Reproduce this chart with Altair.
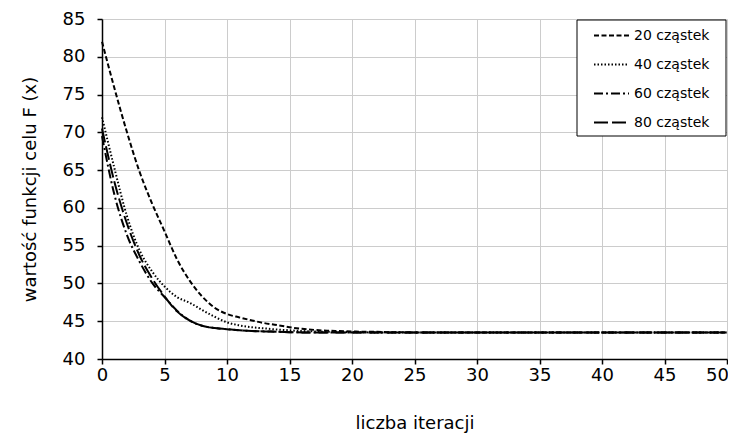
import altair as alt
import pandas as pd

iters = list(range(51))
series_names = ["20 cząstek", "40 cząstek", "60 cząstek", "80 cząstek"]

s20 = [82.0, 75.8, 70.0, 64.8, 60.6, 56.9, 53.2, 50.4, 48.3, 46.8,
       45.95, 45.5, 45.1, 44.75, 44.5, 44.2, 44.0, 43.85, 43.75, 43.7,
       43.65, 43.6, 43.6, 43.55, 43.55, 43.5, 43.5, 43.5, 43.5, 43.5,
       43.5, 43.5, 43.5, 43.5, 43.5, 43.5, 43.5, 43.5, 43.5, 43.5,
       43.5, 43.5, 43.5, 43.5, 43.5, 43.5, 43.5, 43.5, 43.5, 43.5, 43.5]
s40 = [72.0, 65.2, 58.9, 54.4, 51.6, 49.6, 48.2, 47.45, 46.5, 45.6,
       44.85, 44.45, 44.2, 44.05, 43.9, 43.8, 43.7, 43.65, 43.6, 43.58,
       43.55, 43.53, 43.5, 43.5, 43.5, 43.5, 43.5, 43.5, 43.5, 43.5,
       43.5, 43.5, 43.5, 43.5, 43.5, 43.5, 43.5, 43.5, 43.5, 43.5,
       43.5, 43.5, 43.5, 43.5, 43.5, 43.5, 43.5, 43.5, 43.5, 43.5, 43.5]
s60 = [69.5, 61.7, 56.4, 52.9, 50.1, 48.2, 46.4, 45.1, 44.4, 44.1,
       43.95, 43.8, 43.7, 43.65, 43.6, 43.55, 43.52, 43.5, 43.5, 43.5,
       43.5, 43.5, 43.5, 43.5, 43.5, 43.5, 43.5, 43.5, 43.5, 43.5,
       43.5, 43.5, 43.5, 43.5, 43.5, 43.5, 43.5, 43.5, 43.5, 43.5,
       43.5, 43.5, 43.5, 43.5, 43.5, 43.5, 43.5, 43.5, 43.5, 43.5, 43.5]
s80 = [70.5, 63.4, 57.9, 53.7, 50.7, 48.3, 46.3, 45.1, 44.4, 44.1,
       43.95, 43.8, 43.7, 43.65, 43.6, 43.55, 43.52, 43.5, 43.5, 43.5,
       43.5, 43.5, 43.5, 43.5, 43.5, 43.5, 43.5, 43.5, 43.5, 43.5,
       43.5, 43.5, 43.5, 43.5, 43.5, 43.5, 43.5, 43.5, 43.5, 43.5,
       43.5, 43.5, 43.5, 43.5, 43.5, 43.5, 43.5, 43.5, 43.5, 43.5, 43.5]

x_ticks = [0, 5, 10, 15, 20, 25, 30, 35, 40, 45, 50]
y_ticks = [40, 45, 50, 55, 60, 65, 70, 75, 80, 85]

rows = []
for name, vals in zip(series_names, [s20, s40, s60, s80]):
    for i, v in zip(iters, vals):
        rows.append({"series": name, "iter": i, "value": v})
df = pd.DataFrame(rows)

FONT = "DejaVu Sans"

lines = alt.Chart(df).mark_line(color="black", strokeWidth=2, interpolate="monotone").encode(
    x=alt.X("iter:Q", scale=alt.Scale(domain=[0, 50], nice=False),
            axis=alt.Axis(values=x_ticks, title="liczba  iteracji",
                          titleY=64, titleBaseline="middle",
                          labelPadding=2, labelFlush=False,
                          labelOffset={"condition": {"test": "datum.value == 50", "value": -10},
                                       "value": 0})),
    y=alt.Y("value:Q", scale=alt.Scale(domain=[40, 85], nice=False, zero=False),
            axis=alt.Axis(values=y_ticks, title="wartość  funkcji  celu  F (x)",
                          titleX=-72, titleBaseline="middle", titleAngle=270,
                          labelPadding=12, labelFlush=False)),
    strokeDash=alt.StrokeDash(
        "series:N",
        scale=alt.Scale(domain=series_names,
                        range=[[5, 2.5], [1.5, 2], [9, 3, 2, 3], [14, 4]]),
        legend=alt.Legend(title=None, orient="none", legendX=491, legendY=-2,
                          symbolType="stroke", symbolSize=1225,
                          symbolStrokeWidth=2, symbolStrokeColor="black",
                          padding=0, labelOffset=4,
                          labelFont=FONT, labelFontSize=14, labelColor="black",
                          rowPadding=3),
    ),
)

legend_box = alt.Chart(pd.DataFrame({"k": [0]})).mark_rect(
    fill="white", stroke="black", strokeWidth=1
).encode(
    x=alt.value(475), x2=alt.value(624), y=alt.value(1), y2=alt.value(117)
)

chart = alt.layer(lines, legend_box).properties(
    width=625, height=340,
    autosize=alt.AutoSizeParams(type="none"),
    padding={"left": 94, "top": 11, "right": 1, "bottom": 74},
).configure_view(stroke=None).configure_axis(
    grid=True, gridColor="#cccccc", gridWidth=1,
    domainColor="black", domainWidth=1.5,
    tickColor="black", tickSize=5, tickWidth=1.5,
    labelFont=FONT, labelFontSize=18, labelColor="black",
    titleFont=FONT, titleFontSize=18, titleFontWeight="normal", titleColor="black",
)

chart.save("out.html", embed_options={"renderer": "svg", "actions": False})
